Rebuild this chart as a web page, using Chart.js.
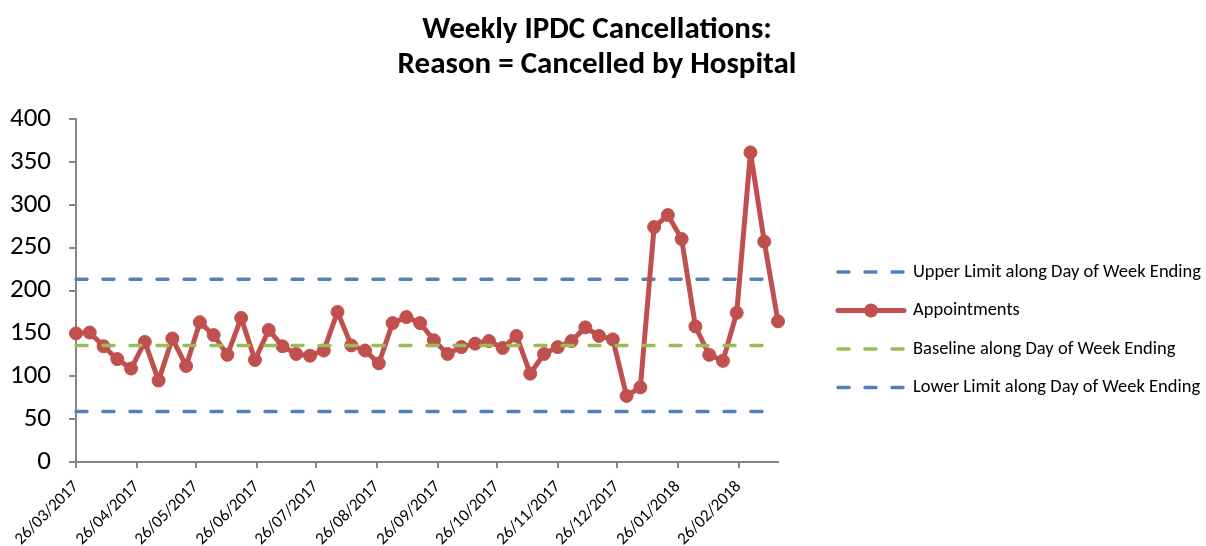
<!DOCTYPE html>
<html>
<head>
<meta charset="utf-8">
<title>Weekly IPDC Cancellations</title>
<script src="https://cdn.jsdelivr.net/npm/chart.js@4.4.1/dist/chart.umd.min.js"></script>
<style>
  body { margin: 0; background: #fff; }
  #wrap { width: 1206px; height: 546px; }
</style>
</head>
<body>
<div id="wrap"><canvas id="ipdcChart" width="1206" height="546"></canvas></div>
<script>
// week ending dates (Sundays)
const weekEnding = [
  '26/03/2017', '02/04/2017', '09/04/2017', '16/04/2017', '23/04/2017', '30/04/2017',
  '07/05/2017', '14/05/2017', '21/05/2017', '28/05/2017',
  '04/06/2017', '11/06/2017', '18/06/2017', '25/06/2017',
  '02/07/2017', '09/07/2017', '16/07/2017', '23/07/2017', '30/07/2017',
  '06/08/2017', '13/08/2017', '20/08/2017', '27/08/2017',
  '03/09/2017', '10/09/2017', '17/09/2017', '24/09/2017',
  '01/10/2017', '08/10/2017', '15/10/2017', '22/10/2017', '29/10/2017',
  '05/11/2017', '12/11/2017', '19/11/2017', '26/11/2017',
  '03/12/2017', '10/12/2017', '17/12/2017', '24/12/2017', '31/12/2017',
  '07/01/2018', '14/01/2018', '21/01/2018', '28/01/2018',
  '04/02/2018', '11/02/2018', '18/02/2018', '25/02/2018',
  '04/03/2018', '11/03/2018', '18/03/2018'
];

const appointments = [
  150, 151, 135, 120, 109, 140, 95, 144, 112, 163,
  148, 125, 168, 119, 154, 135, 126, 124, 130, 175,
  136, 130, 115, 162, 169, 162, 142, 126, 134, 138,
  141, 133, 147, 103, 126, 134, 141, 157, 147, 143,
  77, 87, 274, 288, 260, 158, 125, 118, 174, 361,
  257, 164
];

const upperLimit = 213;
const baseline = 136;
const lowerLimit = 59;

const monthTicks = [
  '26/03/2017', '26/04/2017', '26/05/2017', '26/06/2017', '26/07/2017', '26/08/2017',
  '26/09/2017', '26/10/2017', '26/11/2017', '26/12/2017', '26/01/2018', '26/02/2018'
];

const titleLines = ['Weekly IPDC Cancellations:', 'Reason = Cancelled by Hospital'];

const FONT = 'Carlito, Calibri, Lato, sans-serif';

function dayNumber(str) {
  const [d, m, y] = str.split('/').map(Number);
  return Date.UTC(y, m - 1, d) / 86400000;
}
const firstDay = dayNumber(weekEnding[0]);
const dayOffset = s => dayNumber(s) - firstDay;

const flatLine = v => weekEnding.map(d => ({ x: dayOffset(d), y: v }));

const dashed = (label, color, value, order) => ({
  label: label,
  data: flatLine(value),
  borderColor: color,
  borderWidth: 3.5,
  borderDash: [11, 16],
  borderCapStyle: 'round',
  pointRadius: 0,
  fill: false,
  clip: false,
  order: order
});

const datasets = [
  dashed('Upper Limit along Day of Week Ending', '#4F81BD', upperLimit, 4),
  {
    label: 'Appointments',
    data: weekEnding.map((d, i) => ({ x: dayOffset(d), y: appointments[i] })),
    borderColor: '#C0504D',
    backgroundColor: '#C0504D',
    borderWidth: 5,
    borderJoinStyle: 'round',
    pointRadius: 6.5,
    pointBorderWidth: 1,
    pointBackgroundColor: '#C0504D',
    pointBorderColor: '#C0504D',
    fill: false,
    clip: false,
    order: 3
  },
  dashed('Baseline along Day of Week Ending', '#9BBB59', baseline, 2),
  dashed('Lower Limit along Day of Week Ending', '#4F81BD', lowerLimit, 1)
];

// title and right-hand legend drawn straight onto the canvas
const decorations = {
  id: 'decorations',
  afterDraw(chart) {
    const ctx = chart.ctx;
    ctx.save();
    ctx.fillStyle = '#000';
    ctx.textAlign = 'center';
    ctx.textBaseline = 'alphabetic';
    ctx.font = 'bold 31px ' + FONT;
    ctx.fillText(titleLines[0], 597, 38);
    ctx.fillText(titleLines[1], 597, 73);

    chart.data.datasets.forEach((ds, i) => {
      const y = 272 + i * 38.5;
      ctx.strokeStyle = ds.borderColor;
      ctx.lineWidth = ds.borderWidth;
      ctx.lineCap = 'round';
      ctx.setLineDash(ds.borderDash || []);
      ctx.beginPath();
      ctx.moveTo(838, y);
      ctx.lineTo(904, y);
      ctx.stroke();
      ctx.setLineDash([]);
      if (ds.pointRadius > 0) {
        ctx.fillStyle = ds.pointBackgroundColor;
        ctx.beginPath();
        ctx.arc(871, y, 7, 0, Math.PI * 2);
        ctx.fill();
      }
      ctx.fillStyle = '#000';
      ctx.textAlign = 'left';
      ctx.textBaseline = 'middle';
      ctx.font = '18.5px ' + FONT;
      ctx.fillText(ds.label, 913, y);
    });
    ctx.restore();
  }
};

new Chart(document.getElementById('ipdcChart'), {
  type: 'line',
  data: { datasets: datasets },
  options: {
    responsive: false,
    animation: false,
    layout: { padding: { top: 119, right: 428, bottom: 0, left: 0 } },
    plugins: {
      legend: { display: false },
      title: { display: false },
      tooltip: { enabled: false }
    },
    scales: {
      x: {
        type: 'linear',
        min: 0,
        max: dayOffset(weekEnding[weekEnding.length - 1]),
        afterBuildTicks: axis => {
          axis.ticks = monthTicks.map(t => ({ value: dayOffset(t) }));
        },
        afterFit: axis => { axis.height = 84; },
        ticks: {
          autoSkip: false,
          minRotation: 45,
          maxRotation: 45,
          padding: 9,
          color: '#000',
          font: { family: FONT, size: 17 },
          callback: (value, index) => monthTicks[index]
        },
        grid: { drawOnChartArea: false, drawTicks: true, tickLength: 6, color: '#868686', lineWidth: 2 },
        border: { color: '#868686', width: 2 }
      },
      y: {
        min: 0,
        max: 400,
        afterFit: axis => { axis.width = 76; },
        ticks: {
          stepSize: 50,
          padding: 18,
          color: '#000',
          font: { family: FONT, size: 27 }
        },
        grid: { drawOnChartArea: false, drawTicks: true, tickLength: 7, color: '#868686', lineWidth: 2 },
        border: { color: '#868686', width: 2 }
      }
    }
  },
  plugins: [decorations]
});
</script>
</body>
</html>
